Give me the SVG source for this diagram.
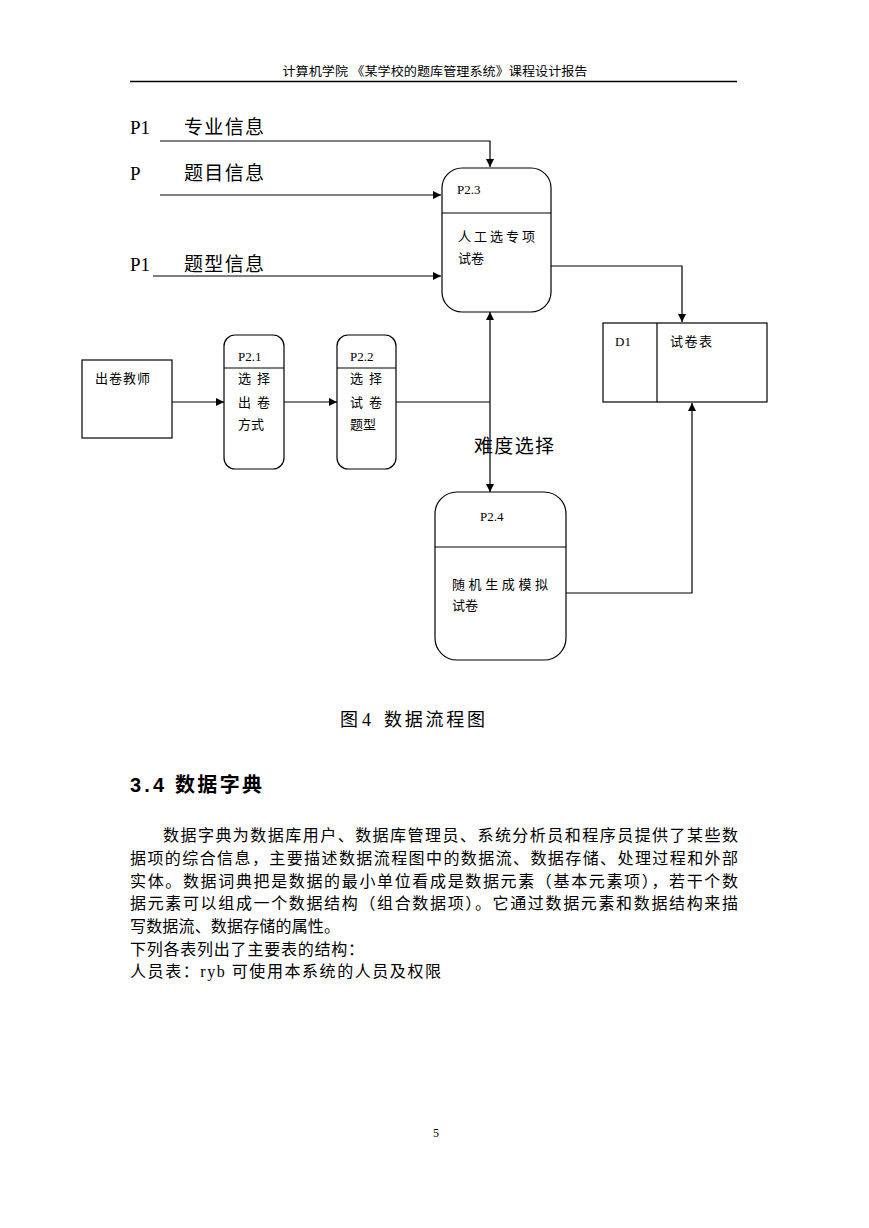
<svg xmlns="http://www.w3.org/2000/svg" width="869" height="1228" viewBox="0 0 869 1228">
<defs>
<style>
.cjk{font-family:"Liberation Serif","Noto Sans CJK SC",serif;fill:#000}
.lat{font-family:"Liberation Serif","Noto Sans CJK SC",serif;fill:#000}
.box{fill:#fff;stroke:#000;stroke-width:1.2}
.ln{fill:none;stroke:#000;stroke-width:1.2}
.big{font-size:19px}
.sm{font-size:13px}
.body{font-size:16px}
</style>
<marker id="ah" viewBox="0 0 10 10" refX="10" refY="5" markerWidth="8" markerHeight="8" markerUnits="userSpaceOnUse" orient="auto">
<path d="M0,0 L10,5 L0,10 z" fill="#000"/>
</marker>
</defs>
<rect width="869" height="1228" fill="#fff"/>

<g id="header">
<text class="cjk" x="435" y="76" font-size="12.5" text-anchor="middle" textLength="305" lengthAdjust="spacingAndGlyphs">计算机学院 《某学校的题库管理系统》课程设计报告</text>
<line x1="130" y1="81.5" x2="737" y2="81.5" stroke="#000" stroke-width="1.3"/>
</g>

<g id="flow-labels">
<text class="lat big" x="130" y="134">P1</text>
<text class="cjk big" x="184" y="134" textLength="80">专业信息</text>
<text class="lat big" x="130" y="180">P</text>
<text class="cjk big" x="184" y="180" textLength="80">题目信息</text>
<text class="lat big" x="130" y="271">P1</text>
<text class="cjk big" x="184" y="271" textLength="80">题型信息</text>
<text class="cjk big" x="474" y="453" textLength="80">难度选择</text>
</g>

<g id="connectors">
<polyline class="ln" points="160,141 490,141 490,167" marker-end="url(#ah)"/>
<line class="ln" x1="160" y1="195" x2="441" y2="195" stroke-width="1.6" marker-end="url(#ah)"/>
<line class="ln" x1="153" y1="276" x2="441" y2="276" marker-end="url(#ah)"/>
<polyline class="ln" points="551,266 682,266 682,322" marker-end="url(#ah)"/>
<line class="ln" x1="172" y1="402" x2="224" y2="402" marker-end="url(#ah)"/>
<line class="ln" x1="284" y1="402" x2="337" y2="402" marker-end="url(#ah)"/>
<line class="ln" x1="396" y1="402" x2="490" y2="402"/>
<line class="ln" x1="490" y1="402" x2="490" y2="312" stroke="#333" stroke-width="1.5" marker-end="url(#ah)"/>
<line class="ln" x1="490" y1="402" x2="490" y2="492" stroke="#333" stroke-width="1.5" marker-end="url(#ah)"/>
<polyline class="ln" points="566,593 692,593 692,403" marker-end="url(#ah)"/>
</g>

<g id="P2.3">
<rect class="box" x="442" y="168" width="109" height="144" rx="20" ry="20"/>
<line class="ln" x1="442" y1="213" x2="551" y2="213"/>
<text class="lat sm" x="457" y="194">P2.3</text>
<text class="cjk sm" x="458" y="241" textLength="77">人工选专项</text>
<text class="cjk sm" x="458" y="263">试卷</text>
</g>

<g id="teacher">
<rect class="box" x="82" y="360" width="90" height="78"/>
<text class="cjk sm" x="95" y="383" textLength="55">出卷教师</text>
</g>

<g id="P2.1">
<rect class="box" x="224" y="335" width="60" height="134" rx="11" ry="11"/>
<line class="ln" x1="224" y1="368" x2="284" y2="368"/>
<text class="lat sm" x="238" y="361">P2.1</text>
<text class="cjk sm" x="238" y="383" textLength="32">选 择</text>
<text class="cjk sm" x="238" y="407" textLength="32">出 卷</text>
<text class="cjk sm" x="238" y="429">方式</text>
</g>

<g id="P2.2">
<rect class="box" x="337" y="335" width="59" height="134" rx="11" ry="11"/>
<line class="ln" x1="337" y1="368" x2="396" y2="368"/>
<text class="lat sm" x="350" y="361">P2.2</text>
<text class="cjk sm" x="350" y="383" textLength="32">选 择</text>
<text class="cjk sm" x="350" y="407" textLength="32">试 卷</text>
<text class="cjk sm" x="350" y="429">题型</text>
</g>

<g id="D1">
<rect class="box" x="603" y="323" width="164" height="79"/>
<line class="ln" x1="657" y1="323" x2="657" y2="402"/>
<text class="lat sm" x="615" y="346">D1</text>
<text class="cjk sm" x="670" y="346" textLength="42">试卷表</text>
</g>

<g id="P2.4">
<rect class="box" x="435" y="492" width="131" height="168" rx="22" ry="22"/>
<line class="ln" x1="435" y1="547" x2="566" y2="547"/>
<text class="lat sm" x="480" y="521">P2.4</text>
<text class="cjk sm" x="452" y="589" textLength="96">随机生成模拟</text>
<text class="cjk sm" x="452" y="610">试卷</text>
</g>

<g id="caption">
<text class="cjk" x="340" y="726" font-size="18">图</text>
<text class="lat" x="362" y="726" font-size="18">4</text>
<text class="cjk" x="384" y="726" font-size="18" textLength="101">数据流程图</text>
</g>

<g id="body">
<text x="130" y="792" font-family="'Liberation Sans','Noto Sans CJK SC',sans-serif" font-size="20" font-weight="bold" textLength="34">3.4</text>
<text x="175" y="792" font-family="'Liberation Sans','Noto Sans CJK SC',sans-serif" font-size="20" font-weight="bold" textLength="87">数据字典</text>
<text class="cjk body" x="163" y="841" textLength="575">数据字典为数据库用户、数据库管理员、系统分析员和程序员提供了某些数</text>
<text class="cjk body" x="130" y="864" textLength="608">据项的综合信息，主要描述数据流程图中的数据流、数据存储、处理过程和外部</text>
<text class="cjk body" x="130" y="887" textLength="608">实体。数据词典把是数据的最小单位看成是数据元素（基本元素项），若干个数</text>
<text class="cjk body" x="130" y="909" textLength="608">据元素可以组成一个数据结构（组合数据项）。它通过数据元素和数据结构来描</text>
<text class="cjk body" x="130" y="932" textLength="210">写数据流、数据存储的属性。</text>
<text class="cjk body" x="130" y="955" textLength="234">下列各表列出了主要表的结构：</text>
<text class="cjk body" x="130" y="977" textLength="311">人员表：ryb 可使用本系统的人员及权限</text>
</g>

<g id="footer">
<text class="lat" x="433" y="1137" font-size="12">5</text>
</g>
</svg>
